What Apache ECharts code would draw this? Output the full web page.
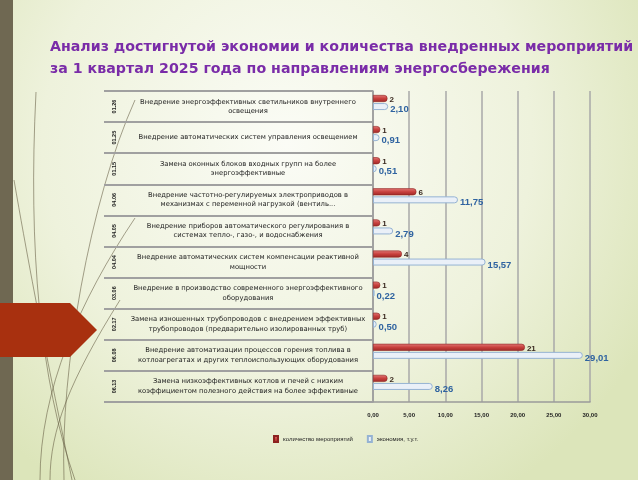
<!DOCTYPE html>
<html><head><meta charset="utf-8">
<script src="https://cdn.jsdelivr.net/npm/echarts@6/dist/echarts.min.js"></script>
<style>html,body{margin:0;padding:0;}#c{width:638px;height:480px;}</style>
</head><body><div id="c"></div>
<script>
var titleLines = ['Анализ достигнутой экономии и количества внедренных мероприятий', 'за 1 квартал 2025 года по направлениям энергосбережения'];
var codes = ['01.26','01.25','01.15','04.06','04.05','04.04','03.06','02.17','06.08','06.13'];
var categories = [
 'Внедрение энергоэффективных светильников внутреннего\nосвещения',
 'Внедрение автоматических систем управления освещением',
 'Замена оконных блоков входных групп на более\nэнергоэффективные',
 'Внедрение частотно-регулируемых электроприводов в\nмеханизмах с переменной нагрузкой (вентиль...',
 'Внедрение приборов автоматического регулирования в\nсистемах тепло-, газо-, и водоснабжения',
 'Внедрение автоматических систем компенсации реактивной\nмощности',
 'Внедрение в производство современного энергоэффективного\nоборудования',
 'Замена изношенных трубопроводов с внедрением эффективных\nтрубопроводов (предварительно изолированных труб)',
 'Внедрение автоматизации процессов горения топлива в\nкотлоагрегатах и других теплоиспользующих оборудования',
 'Замена низкоэффективных котлов и печей с низким\nкоэффициентом полезного действия на более эффективные'
];
var countValues = [2, 1, 1, 6, 1, 4, 1, 1, 21, 2];
var savingValues = [2.10, 0.91, 0.51, 11.75, 2.79, 15.57, 0.22, 0.50, 29.01, 8.26];
var xTicks = [0, 5, 10, 15, 20, 25, 30];
var seriesNames = ['количество мероприятий', 'экономия, т.у.т.'];

var chart = echarts.init(document.getElementById('c'));
var curveStyle = {stroke: 'rgba(95,85,60,0.55)', lineWidth: 1, fill: null};
chart.setOption({
  backgroundColor: {type: 'radial', x: 0.45, y: 0.3, r: 0.85,
    colorStops: [{offset: 0, color: '#fbfcf6'}, {offset: 0.6, color: '#eef2dc'}, {offset: 1, color: '#dce5ba'}]},
  graphic: [
    {type: 'rect', shape: {x: 0, y: 0, width: 13, height: 480}, style: {fill: '#6f6852'}, z: -1},
    {type: 'bezierCurve', shape: {x1: 36, y1: 92, cpx1: 28, cpy1: 250, cpx2: 40, cpy2: 380, x2: 75, y2: 480}, style: curveStyle, silent: true},
    {type: 'bezierCurve', shape: {x1: 14, y1: 180, cpx1: 40, cpy1: 330, cpx2: 60, cpy2: 420, x2: 72, y2: 480}, style: curveStyle, silent: true},
    {type: 'bezierCurve', shape: {x1: 135, y1: 218, cpx1: 80, cpy1: 300, cpx2: 40, cpy2: 390, x2: 40, y2: 480}, style: curveStyle, silent: true},
    {type: 'bezierCurve', shape: {x1: 135, y1: 100, cpx1: 90, cpy1: 200, cpx2: 60, cpy2: 370, x2: 64, y2: 480}, style: curveStyle, silent: true},
    {type: 'bezierCurve', shape: {x1: 120, y1: 300, cpx1: 70, cpy1: 380, cpx2: 50, cpy2: 430, x2: 50, y2: 480}, style: curveStyle, silent: true},
    {type: 'polygon', shape: {points: [[0, 303], [70, 303], [97, 330], [70, 357], [0, 357]]}, style: {fill: '#a8300f'}, z: 10},
    {type: 'text', left: 50, top: 36, style: {text: titleLines.join('\n'), fill: '#7a2ca8', font: 'bold 14.2px "DejaVu Sans"', lineHeight: 22}}
  ],
  legend: {
    data: seriesNames, left: 268, top: 430, itemWidth: 4, itemHeight: 6, itemGap: 14,
    icon: 'rect',
    textStyle: {fontSize: 6, color: '#222', fontFamily: 'Liberation Sans'}
  },
  grid: {left: 373, right: 48, top: 91, bottom: 78, containLabel: false},
  xAxis: {
    type: 'value', min: 0, max: 30, interval: 5,
    axisLine: {show: true, lineStyle: {color: '#9a9a9a', width: 1.5}},
    axisTick: {show: false},
    splitLine: {show: true, lineStyle: {color: '#a8a8a8', width: 1.5}},
    axisLabel: {fontSize: 6, color: '#222', fontWeight: 'bold', margin: 10,
      formatter: function (v) { return xTicks.indexOf(v) >= 0 ? v.toFixed(2).replace('.', ',') : ''; }}
  },
  yAxis: [{
    type: 'category', inverse: true, data: categories,
    axisLine: {show: true, lineStyle: {color: '#9a9a9a', width: 1.5}},
    axisTick: {show: true, length: 269, lineStyle: {color: '#a0a0a0', width: 2}},
    axisLabel: {fontSize: 6.8, color: '#222', fontFamily: 'DejaVu Sans', margin: 125, align: 'center', lineHeight: 9.5}
  }, {
    type: 'category', inverse: true, data: codes, position: 'left', offset: 251,
    axisLine: {show: false}, axisTick: {show: false},
    axisLabel: {fontSize: 5.5, color: '#222', fontWeight: 'bold', rotate: 90, margin: 5}
  }],
  series: [{
    name: seriesNames[0], type: 'bar', yAxisIndex: 0, data: countValues,
    barWidth: 7, barGap: '15%',
    itemStyle: {color: {type: 'linear', x: 0, y: 0, x2: 0, y2: 1,
      colorStops: [{offset: 0, color: '#e27a78'}, {offset: 0.5, color: '#c8403d'}, {offset: 1, color: '#9e2826'}]},
      borderColor: '#8c2220', borderWidth: 0.6, borderRadius: [0, 3, 3, 0]},
    label: {show: true, position: 'right', distance: 2, fontSize: 8, fontWeight: 'bold', color: '#3a2a20', offset: [0, 1]}
  }, {
    name: seriesNames[1], type: 'bar', yAxisIndex: 0, data: savingValues,
    barWidth: 7, barGap: '15%',
    itemStyle: {color: '#eaf0f8', borderColor: '#95b3d3', borderWidth: 1, borderRadius: [0, 3.5, 3.5, 0]},
    label: {show: true, position: 'right', distance: 2, fontSize: 9.5, fontWeight: 'bold', color: '#2f63a0', offset: [0, 3],
      formatter: function (p) { return p.value.toFixed(2).replace('.', ','); }}
  }, {
    name: 'spacer', type: 'bar', yAxisIndex: 0, data: [], barWidth: 7, barGap: '15%', silent: true
  }]
});
</script></body></html>
